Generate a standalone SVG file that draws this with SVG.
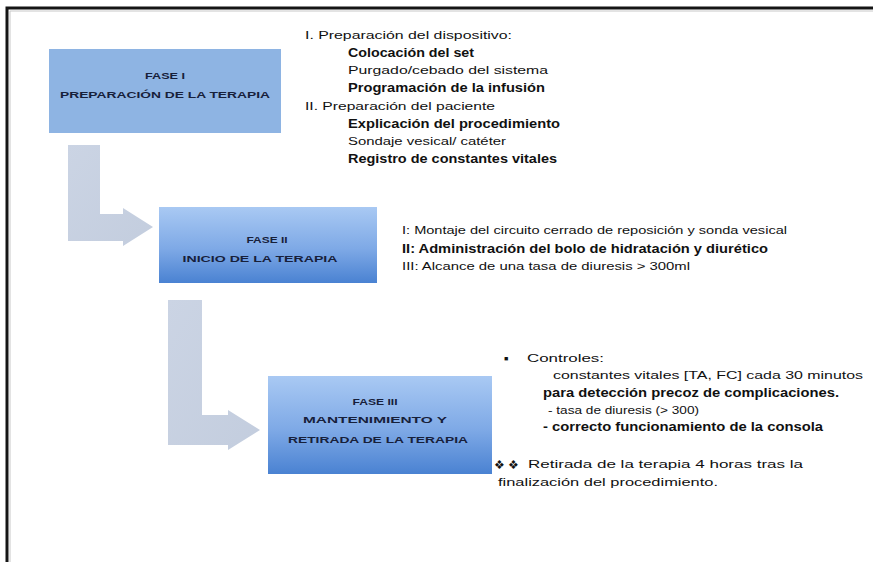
<svg xmlns="http://www.w3.org/2000/svg" width="873" height="562" viewBox="0 0 873 562">
<defs>
<linearGradient id="gBox" x1="0" y1="0" x2="0" y2="1">
<stop offset="0" stop-color="#A9C9F3"/>
<stop offset="0.55" stop-color="#7EA9E6"/>
<stop offset="1" stop-color="#4A82D2"/>
</linearGradient>
<linearGradient id="gArrow" x1="0" y1="0" x2="1" y2="1">
<stop offset="0" stop-color="#CBD4E4"/>
<stop offset="1" stop-color="#C3CDDE"/>
</linearGradient>
<style>
.bx{font-family:"Liberation Sans",Arial,sans-serif;font-weight:bold;font-size:9.5px;fill:#17203A;text-anchor:middle}
.t{font-family:"Liberation Sans",Arial,sans-serif;fill:#111}
.n{font-size:10px}
.b{font-size:12px;font-weight:bold}
.arrow{fill:url(#gArrow)}
</style>
</defs>
<rect x="0" y="0" width="873" height="562" fill="#FFFFFF"/>
<g id="frame">
<path d="M10,562 V11 H873" fill="none" stroke="#C8C8C8" stroke-width="1"/>
<path d="M7,562 V8 H873" fill="none" stroke="#151515" stroke-width="3"/>
</g>
<g id="connectors">
<path class="arrow" d="M68,145 H100 V214 H123 V208 L153,227 L123,246 V241 H68 Z"/>
<path class="arrow" d="M168,300 H202 V415 H228 V410 L260,430 L228,450 V445 H168 Z"/>
</g>
<g id="fase1">
<rect x="49" y="49" width="232" height="84" fill="#8EB4E3"/>
<text class="bx" x="165" y="79" textLength="40" lengthAdjust="spacingAndGlyphs">FASE I</text>
<text class="bx" x="165" y="98" textLength="210" lengthAdjust="spacingAndGlyphs">PREPARACIÓN DE LA TERAPIA</text>
</g>
<g id="fase2">
<rect x="159" y="207" width="218" height="76" fill="url(#gBox)"/>
<text class="bx" x="267" y="243" textLength="41" lengthAdjust="spacingAndGlyphs">FASE II</text>
<text class="bx" x="260" y="262" textLength="155" lengthAdjust="spacingAndGlyphs">INICIO DE LA TERAPIA</text>
</g>
<g id="fase3">
<rect x="268" y="376" width="224" height="98" fill="url(#gBox)"/>
<text class="bx" x="375" y="405" textLength="45" lengthAdjust="spacingAndGlyphs">FASE III</text>
<text class="bx" x="375" y="423" textLength="144" lengthAdjust="spacingAndGlyphs">MANTENIMIENTO Y</text>
<text class="bx" x="378" y="443" textLength="180" lengthAdjust="spacingAndGlyphs">RETIRADA DE LA TERAPIA</text>
</g>
<g id="texto1">
<text class="t n" x="305" y="39" textLength="207" lengthAdjust="spacingAndGlyphs">I. Preparación del dispositivo:</text>
<text class="t b" x="348" y="57" textLength="126" lengthAdjust="spacingAndGlyphs">Colocación del set</text>
<text class="t n" x="348" y="74" textLength="200" lengthAdjust="spacingAndGlyphs">Purgado/cebado del sistema</text>
<text class="t b" x="348" y="92" textLength="197" lengthAdjust="spacingAndGlyphs">Programación de la infusión</text>
<text class="t n" x="305" y="110" textLength="190" lengthAdjust="spacingAndGlyphs">II. Preparación del paciente</text>
<text class="t b" x="348" y="128" textLength="212" lengthAdjust="spacingAndGlyphs">Explicación del procedimiento</text>
<text class="t n" x="348" y="145" textLength="158" lengthAdjust="spacingAndGlyphs">Sondaje vesical/ catéter</text>
<text class="t b" x="348" y="163" textLength="209" lengthAdjust="spacingAndGlyphs">Registro de constantes vitales</text>
</g>
<g id="texto2">
<text class="t n" x="402" y="234" textLength="385" lengthAdjust="spacingAndGlyphs">I: Montaje del circuito cerrado de reposición y sonda vesical</text>
<text class="t b" x="402" y="253" textLength="366" lengthAdjust="spacingAndGlyphs">II: Administración del bolo de hidratación y diurético</text>
<text class="t n" x="402" y="270" textLength="288" lengthAdjust="spacingAndGlyphs">III: Alcance de una tasa de diuresis &gt; 300ml</text>
</g>
<g id="texto3">
<text class="t" x="504" y="361" font-size="7" font-family="DejaVu Sans, sans-serif">■</text>
<text class="t n" x="527" y="362" textLength="77" lengthAdjust="spacingAndGlyphs">Controles:</text>
<text class="t n" x="553" y="379" textLength="310" lengthAdjust="spacingAndGlyphs">constantes vitales [TA, FC] cada 30 minutos</text>
<text class="t b" x="543" y="397" textLength="296" lengthAdjust="spacingAndGlyphs">para detección precoz de complicaciones.</text>
<text class="t n" x="548" y="414" textLength="151" lengthAdjust="spacingAndGlyphs">- tasa de diuresis (&gt; 300)</text>
<text class="t b" x="543" y="431" textLength="280" lengthAdjust="spacingAndGlyphs">- correcto funcionamiento de la consola</text>
<text class="t" x="494" y="469" font-size="12" font-family="DejaVu Sans, sans-serif">❖ ❖</text>
<text class="t n" x="528" y="468" textLength="275" lengthAdjust="spacingAndGlyphs">Retirada de la terapia 4 horas tras la</text>
<text class="t n" x="498" y="486" textLength="220" lengthAdjust="spacingAndGlyphs">finalización del procedimiento.</text>
</g>
</svg>
